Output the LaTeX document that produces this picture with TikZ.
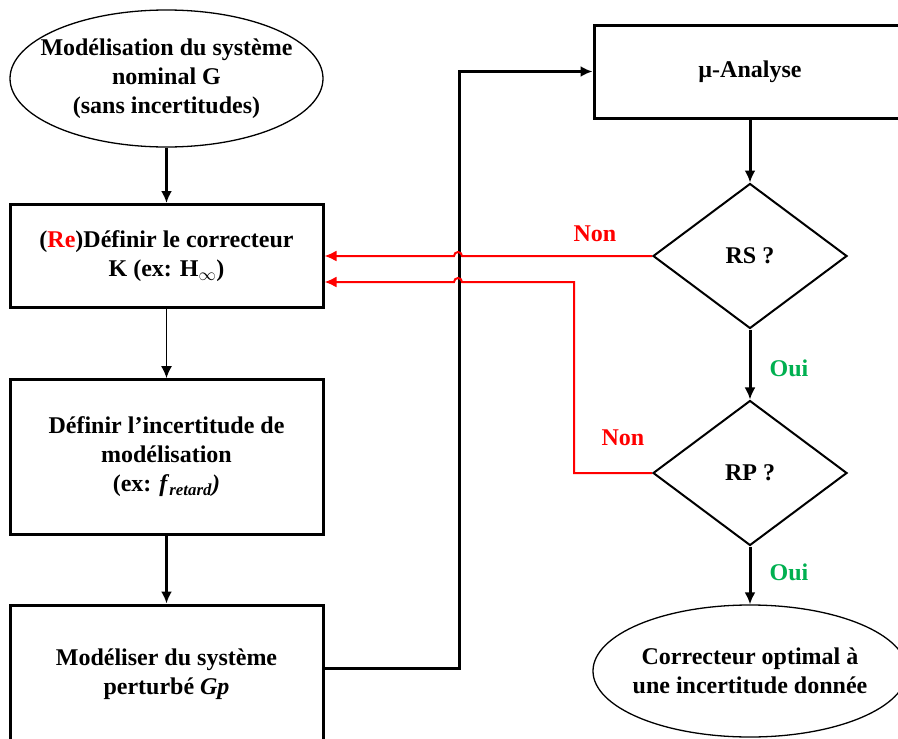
\documentclass[tikz,border=0pt]{standalone}
\usepackage{fontspec}
\setmainfont{Liberation Serif}
\usetikzlibrary{shapes.geometric,arrows.meta}
\definecolor{ouigreen}{RGB}{0,176,80}

\begin{document}
\begin{tikzpicture}[x=1pt,y=-1pt,font=\fontsize{24}{29}\selectfont\bfseries,
>={Latex[length=12pt,width=11pt]},
box/.style={draw,line width=3pt,minimum width=313pt,align=center,inner sep=0pt},
test/.style={draw,diamond,line width=2pt,minimum width=194pt,minimum height=145pt,inner sep=0pt},
oval/.style={draw,ellipse,line width=1.3pt,inner sep=0pt},
flow/.style={line width=3pt,->},
back/.style={red,line width=2pt,->},
non/.style={red},
oui/.style={ouigreen}]

\def\r{4}

\useasboundingbox (0,0) rectangle (898,739);
\clip (0,0) rectangle (898,739);

% Left column
\node[oval,minimum width=313pt,minimum height=137pt] (model) at (166.5,78.5) {};
\node[align=center] (modeltext) at (model)
{Modélisation du système\\nominal G\\(sans incertitudes)};

\node[box,minimum height=103pt] (redef) at (166.5,256)
{(\textcolor{red}{Re})Définir le correcteur\\K (ex: H$_\infty$)};

\node[box,minimum height=155pt] (incert) at (166.5,457)
{Définir l’incertitude de\\modélisation\\(ex: \textit{f}\textsubscript{\textit{retard}}\textit{)}};

\node[box,minimum height=138pt] (gp) at (166.5,674)
{Modéliser du système\\perturbé \textit{Gp}};

% Right column
\node[box,minimum width=312pt,minimum height=93pt] (mu) at (750,71.5) {µ-Analyse};
\node[test] (rs) at (750,256) {RS ?};
\node[test] (rp) at (750,473) {RP ?};
\node[oval,minimum width=314pt,minimum height=132pt] (opt) at (750,671) {};
\node[align=center] (opttext) at (opt)
{Correcteur optimal à\\une incertitude donnée};

% Hops over the black line
\coordinate (hopa) at (458+\r,256);
\coordinate (hopb) at (458+\r,282);

% Main flow
\draw[flow] (model) -- (redef);
\draw[->,line width=1pt] (redef) -- (incert);
\draw[flow] (incert) -- (gp);
\draw[flow] ([yshift=6pt]gp.east) -- ++(135,0) |- (mu.west);
\draw[flow] (mu) -- (rs);
\draw[flow] (rs) -- (rp);
\draw[flow] (rp) -- (opt);

% Back loops
\draw[back] (rs.west) -- (hopa)
arc[start angle=0,end angle=-180,radius=\r] -- (redef.east);
\draw[back] (rp.west) -- ++(-78,0) |- (hopb)
arc[start angle=0,end angle=-180,radius=\r] -- ([yshift=-26pt]redef.east);

% Labels
\node[non] (nona) at (595,234) {Non};
\node[non] (nonb) at (623,438) {Non};
\node[oui] (ouia) at (789,368) {Oui};
\node[oui] (ouib) at (789,572) {Oui};

\end{tikzpicture}
\end{document}
